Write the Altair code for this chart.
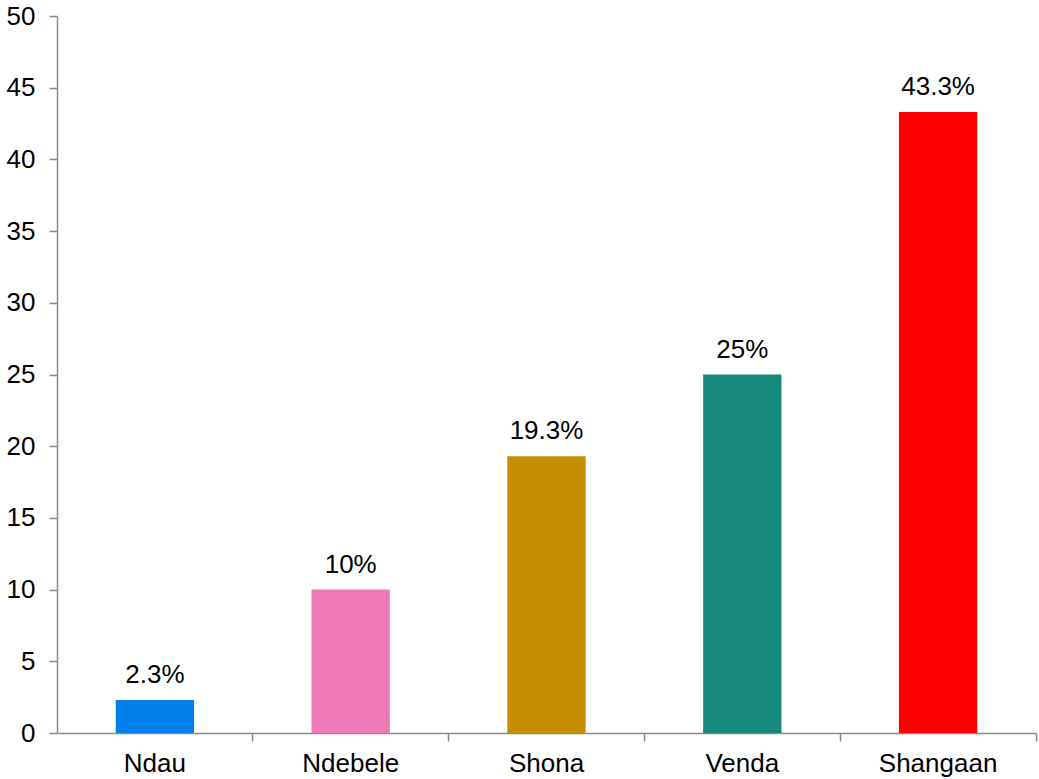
import altair as alt
import pandas as pd

categories = ["Ndau", "Ndebele", "Shona", "Venda", "Shangaan"]
values = [2.3, 10, 19.3, 25, 43.3]
labels = ["2.3%", "10%", "19.3%", "25%", "43.3%"]
colors = ["#0080E8", "#F178B6", "#C68E00", "#17897A", "#FF0000"]

df = pd.DataFrame({"cat": categories, "val": values, "lab": labels})

FONT = "Liberation Sans"
AXC = "#8A8A8A"

x = alt.X(
    "cat:N",
    sort=categories,
    title=None,
    scale=alt.Scale(paddingInner=0.6, paddingOuter=0.3),
    axis=alt.Axis(
        labelAngle=0,
        labelFont=FONT,
        labelFontSize=26,
        labelColor="#000000",
        labelPadding=9,
        domainColor=AXC,
        domainWidth=1.5,
        tickColor=AXC,
        tickWidth=1.5,
        tickSize=8,
        bandPosition=1.75,
    ),
)
y = alt.Y(
    "val:Q",
    title=None,
    scale=alt.Scale(domain=[0, 50], nice=False),
    axis=alt.Axis(
        values=list(range(0, 51, 5)),
        grid=False,
        labelFont=FONT,
        labelFontSize=26,
        labelColor="#000000",
        labelPadding=14,
        domainColor=AXC,
        domainWidth=1.5,
        tickColor=AXC,
        tickWidth=1.5,
        tickSize=8,
    ),
)

bars = alt.Chart(df).mark_bar().encode(
    x=x,
    y=y,
    color=alt.Color("cat:N", scale=alt.Scale(domain=categories, range=colors), legend=None),
)
text = alt.Chart(df).mark_text(
    font=FONT, fontSize=26, color="#000000", baseline="bottom", dy=-12
).encode(x=alt.X("cat:N", sort=categories), y="val:Q", text="lab:N")

chart = (
    alt.layer(bars, text)
    .properties(
        width=979,
        height=717,
        autosize=alt.AutoSizeParams(type="none"),
        padding={"left": 57, "top": 16, "right": 3, "bottom": 46},
    )
    .configure_view(stroke=None)
)

chart.save("out.html", embed_options={"renderer": "svg", "actions": False})
